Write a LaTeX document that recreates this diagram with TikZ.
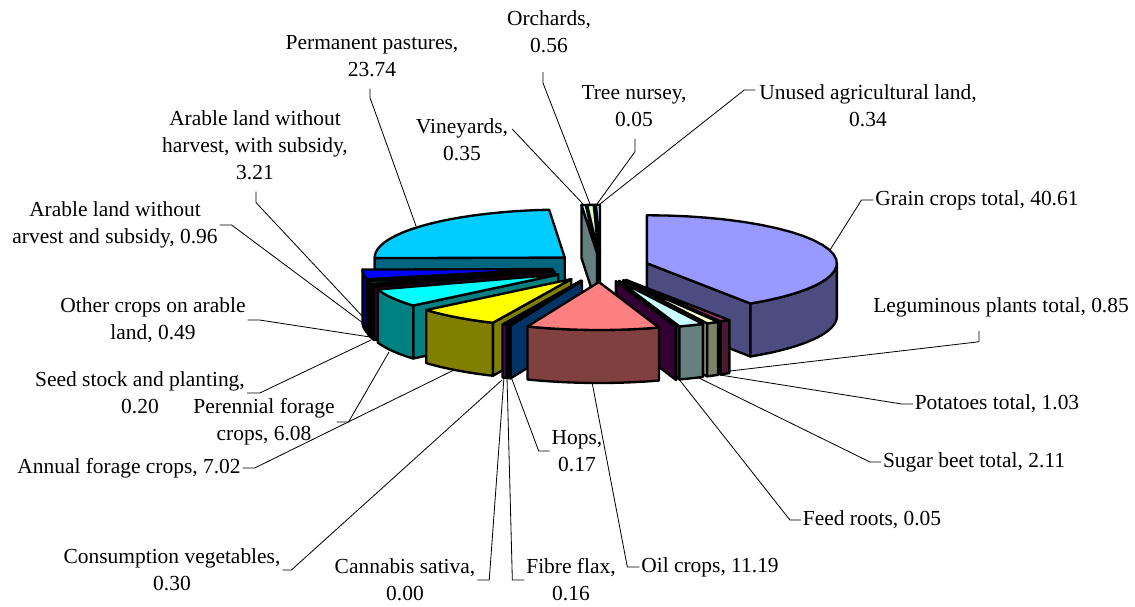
\documentclass[tikz,border=0pt]{standalone}
\usepackage{fontspec}
\setmainfont{Liberation Serif}
\usetikzlibrary{positioning,calc}
\definecolor{Periwinkle}{HTML}{9999FF}
\definecolor{Plum}{HTML}{993366}
\definecolor{Ivory}{HTML}{FFFFCC}
\definecolor{PaleTurquoise}{HTML}{CCFFFF}
\definecolor{DeepPurple}{HTML}{660066}
\definecolor{Coral}{HTML}{FF8080}
\definecolor{OceanBlue}{HTML}{0066CC}
\definecolor{IceBlue}{HTML}{CCCCFF}
\definecolor{Fuchsia}{HTML}{FF00FF}
\definecolor{Lemon}{HTML}{FFFF00}
\definecolor{Aqua}{HTML}{00FFFF}
\definecolor{PurpleEight}{HTML}{800080}
\definecolor{MaroonEight}{HTML}{800000}
\definecolor{TealEight}{HTML}{008080}
\definecolor{PureBlue}{HTML}{0000FF}
\definecolor{SkyBlue}{HTML}{00CCFF}
\definecolor{PaleGreen}{HTML}{CCFFCC}
\definecolor{PaleYellow}{HTML}{FFFF99}
\definecolor{PaleBlue}{HTML}{99CCFF}
\tikzset{
  face/.style={draw=black,line width=2pt,line join=round},
  leader/.style={line width=0.7pt},
  lbl/.style={font=\fontsize{18.3}{23}\selectfont,align=center,inner sep=0pt,outer sep=0.06cm},
}

\begin{document}
\begin{tikzpicture}[x=0.03cm,y=-0.03cm]
  \useasboundingbox (0,0) rectangle (1135,606);
  % slices, back to front: start angle / end angle / colour
  \foreach \a/\b/\col in {358.769/360.000/PaleBlue,358.588/358.769/PaleYellow,356.562/358.588/PaleGreen,
      355.295/356.562/PaleTurquoise,269.376/355.295/SkyBlue,0.000/146.975/Periwinkle,
      257.758/269.376/PureBlue,254.284/257.758/TealEight,252.510/254.284/MaroonEight,
      251.787/252.510/PurpleEight,229.782/251.787/Aqua,204.375/229.782/Lemon,
      146.975/150.052/Plum,150.052/153.780/Ivory,203.289/204.375/Fuchsia,
      202.710/203.289/IceBlue,153.780/161.416/PaleTurquoise,202.095/202.710/OceanBlue,
      161.416/161.597/DeepPurple,161.597/202.095/Coral} {
    \pgfmathsetmacro{\m}{(\a+\b)/2}
    \pgfmathsetmacro{\ax}{600.5+48.4*sin(\m)}
    \pgfmathsetmacro{\ay}{267.4-14.6*cos(\m)}
    \pgfmathtruncatemacro{\sfa}{sin(\a)+0.001<0}
    \pgfmathtruncatemacro{\sfb}{sin(\b)-0.001>0}
    \pgfmathsetmacro{\wlo}{max(\a,90)}
    \pgfmathsetmacro{\whi}{min(\b,270)}
    \pgfmathtruncatemacro{\sw}{\whi>\wlo+0.01}
    \ifnum\sfa=1
      \filldraw[face,fill=\col!50!black] (\ax,\ay) -- ++({190*sin(\a)},{-48*cos(\a)}) -- ++(0,53) -- (\ax,\ay+53) -- cycle;
    \fi
    \ifnum\sfb=1
      \filldraw[face,fill=\col!50!black] (\ax,\ay) -- ++({190*sin(\b)},{-48*cos(\b)}) -- ++(0,53) -- (\ax,\ay+53) -- cycle;
    \fi
    \ifnum\sw=1
      \filldraw[face,fill=\col!50!black] plot[domain=\wlo:\whi,samples=25] ({\ax+190*sin(\x)},{\ay-48*cos(\x)})
        -- plot[domain=\whi:\wlo,samples=25] ({\ax+190*sin(\x)},{\ay+53-48*cos(\x)}) -- cycle;
    \fi
    \filldraw[face,fill=\col] (\ax,\ay) -- plot[domain=\a:\b,samples=25] ({\ax+190*sin(\x)},{\ay-48*cos(\x)}) -- cycle;
  }

  % points where the leaders meet the slices
  \coordinate (grain-pt) at (830,250);
  \coordinate (lgm-pt) at (730,371);
  \coordinate (potato-pt) at (720,375);
  \coordinate (sugar-pt) at (697,377);
  \coordinate (feed-pt) at (678,378);
  \coordinate (oil-pt) at (592,382);
  \coordinate (hops-pt) at (510,374);
  \coordinate (flax-pt) at (507,377);
  \coordinate (cannabis-pt) at (504,377);
  \coordinate (veg-pt) at (502,380);
  \coordinate (annual-pt) at (454,370);
  \coordinate (perennial-pt) at (389,352);
  \coordinate (seed-pt) at (371,340);
  \coordinate (other-pt) at (370,337);
  \coordinate (arableno-pt) at (367,326);
  \coordinate (arablesub-pt) at (364,318);
  \coordinate (pastures-pt) at (416,226);
  \coordinate (vine-pt) at (583,204);
  \coordinate (orch-pt) at (590,204);
  \coordinate (tree-pt) at (597,204);
  \coordinate (unused-pt) at (600,204);

  % labels
  \node[lbl] (grain) at (977,200) {Grain crops total, 40.61};
  \node[lbl] (lgm) at (1001,307) {Leguminous plants total, 0.85};
  \node[lbl] (potato) at (997,404) {Potatoes total, 1.03};
  \node[lbl] (sugar) at (974,462) {Sugar beet total, 2.11};
  \node[lbl] (feed) at (872,520) {Feed roots, 0.05};
  \node[lbl] (oil) at (710,567) {Oil crops, 11.19};
  \node[lbl] (hops) at (577,451) {Hops,\\0.17};
  \node[lbl] (flax) at (571,580) {Fibre flax,\\0.16};
  \node[lbl] (cannabis) at (405,580) {Cannabis sativa,\\0.00};
  \node[lbl] (veg) at (172,570) {Consumption vegetables,\\0.30};
  \node[lbl] (annual) at (129,468) {Annual forage crops, 7.02};
  \node[lbl] (perennial) at (264,422) {Perennial forage\\crops, 6.08};
  \node[lbl] (seed) at (140,393) {Seed stock and planting,\\0.20};
  \node[lbl] (other) at (153,320) {Other crops on arable\\land, 0.49};
  \node[lbl] (arableno) at (115,225) {Arable land without\\arvest and subsidy, 0.96};
  \node[lbl] (arablesub) at (255,145) {Arable land without\\harvest, with subsidy,\\3.21};
  \node[lbl] (pastures) at (372,56) {Permanent pastures,\\23.74};
  \node[lbl] (vine) at (462,140) {Vineyards,\\0.35};
  \node[lbl] (orch) at (549,32) {Orchards,\\0.56};
  \node[lbl] (tree) at (634,106) {Tree nursey,\\0.05};
  \node[lbl] (unused) at (868,106) {Unused agricultural land,\\0.34};

  % leaders
  \draw[leader] (grain.west) -- ++(-12,0) -- (grain-pt);
  \draw[leader] ([shift={(-22,12)}]lgm.south) -- ++(0,11) -- (lgm-pt);
  \draw[leader] (potato.west) -- ++(-11,0) -- (potato-pt);
  \draw[leader] (sugar.west) -- ++(-11,0) -- (sugar-pt);
  \draw[leader] (feed.west) -- ++(-11,0) -- (feed-pt);
  \draw[leader] (oil.west) -- ++(-12,0) -- (oil-pt);
  \draw[leader] (hops.west) -- ++(-11,0) -- (hops-pt);
  \draw[leader] (flax.west) -- ++(-12,0) -- (flax-pt);
  \draw[leader] (cannabis.east) -- ++(12,0) -- (cannabis-pt);
  \draw[leader] (veg.east) -- ++(9,0) -- (veg-pt);
  \draw[leader] (annual.east) -- ++(12,0) -- (annual-pt);
  \draw[leader] (perennial.east) -- ++(12,0) -- (perennial-pt);
  \draw[leader] (seed.east) -- ++(13,0) -- (seed-pt);
  \draw[leader] (other.east) -- ++(12,0) -- (other-pt);
  \draw[leader] (arableno.east) -- ++(12,0) -- (arableno-pt);
  \draw[leader] ([shift={(1,10)}]arablesub.south) -- ++(0,11) -- (arablesub-pt);
  \draw[leader] ([shift={(-2,10)}]pastures.south) -- ++(0,9) -- (pastures-pt);
  \draw[leader] ([shift={(2,12)}]vine.north east) -- (vine-pt);
  \draw[leader] ([shift={(-6,17)}]orch.south) -- ++(0,11) -- (orch-pt);
  \draw[leader] ([shift={(1,10)}]tree.south) -- ++(0,13) -- (tree-pt);
  \draw[leader] ([shift={(-2,7)}]unused.north west) -- ++(-11,0) -- (unused-pt);
\end{tikzpicture}
\end{document}
